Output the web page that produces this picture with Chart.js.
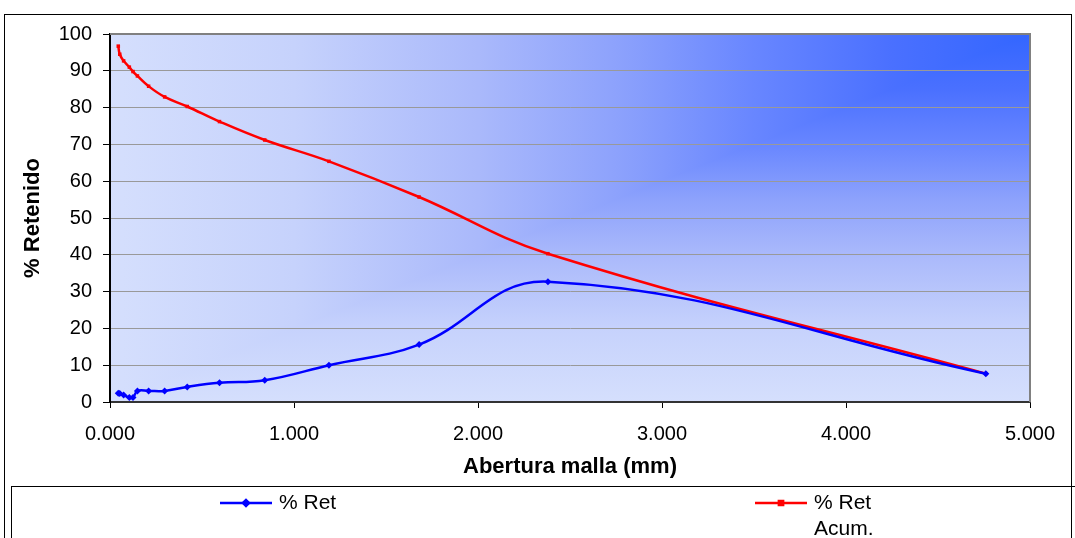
<!DOCTYPE html>
<html>
<head>
<meta charset="utf-8">
<script src="https://cdn.jsdelivr.net/npm/chart.js@4.4.1/dist/chart.umd.min.js"></script>
<style>
  html, body { margin: 0; padding: 0; background: #fff; }
  #wrap { width: 1075px; height: 538px; }
</style>
</head>
<body>
<div id="wrap"><canvas id="grafico" width="1075" height="538"></canvas></div>
<script>
// Datos de la curva granulometrica
const aberturas = [4.76, 2.38, 1.68, 1.19, 0.841, 0.595, 0.42, 0.297, 0.21, 0.149, 0.125, 0.105, 0.074, 0.053, 0.045];
const retenido = [7.7, 32.7, 15.6, 10.0, 5.9, 5.2, 4.1, 3.0, 3.0, 3.0, 1.2, 1.2, 1.9, 2.3, 2.4];
const retAcumulado = [7.7, 40.3, 55.7, 65.4, 71.2, 76.2, 80.3, 82.9, 85.8, 88.6, 89.8, 91.0, 92.7, 94.5, 96.7];
const leyendaRet = ['% Ret'];
const leyendaAcum = ['% Ret', 'Acum.'];

const FUENTE = "'Liberation Sans', Arial, sans-serif";

function puntos(valores) {
  return aberturas.map((x, i) => ({ x: x, y: valores[i] }));
}

// Degradado "desde la esquina" (superior derecha) del area de trazado
const fondoDegradado = {
  id: 'fondoDegradado',
  beforeDraw(chart) {
    const { ctx, chartArea: a } = chart;
    const stops = [[0, '#3366ff'], [0.15, '#4a70ff'], [0.3, '#6886ff'], [0.45, '#8da2fc'],
                   [0.6, '#aab9fb'], [0.8, '#c6d2fc'], [1, '#d5dffd']];
    ctx.save();
    // horizontal
    const gh = ctx.createLinearGradient(a.right, 0, a.left, 0);
    stops.forEach(([t, c]) => gh.addColorStop(t, c));
    ctx.fillStyle = gh;
    ctx.fillRect(a.left, a.top, a.width, a.height);
    // vertical, en el triangulo inferior derecho
    const gv = ctx.createLinearGradient(0, a.top, 0, a.bottom);
    stops.forEach(([t, c]) => gv.addColorStop(t, c));
    ctx.fillStyle = gv;
    ctx.beginPath();
    ctx.moveTo(a.right, a.top);
    ctx.lineTo(a.right, a.bottom);
    ctx.lineTo(a.left, a.bottom);
    ctx.closePath();
    ctx.fill();
    ctx.restore();
  },
  afterDraw(chart) {
    const { ctx, chartArea: a } = chart;
    ctx.save();
    // borde gris del area de trazado (arriba y derecha)
    ctx.strokeStyle = '#808080';
    ctx.lineWidth = 2;
    ctx.beginPath();
    ctx.moveTo(a.left, a.top);
    ctx.lineTo(a.right, a.top);
    ctx.lineTo(a.right, a.bottom);
    ctx.stroke();
    // marco exterior
    ctx.strokeStyle = '#000';
    ctx.lineWidth = 1;
    ctx.strokeRect(4.5, 14.5, 1067, 540);
    // caja de la leyenda
    ctx.strokeRect(11.5, 486.5, 1070, 60);
    ctx.restore();
  }
};

// Leyenda propia (el texto de la segunda serie va en dos lineas)
const leyenda = {
  id: 'leyenda',
  afterDraw(chart) {
    const { ctx } = chart;
    const items = [
      { ds: chart.data.datasets[0], x0: 220, x1: 272, textos: leyendaRet },
      { ds: chart.data.datasets[1], x0: 755, x1: 807, textos: leyendaAcum }
    ];
    ctx.save();
    items.forEach((it) => {
      const y = 503;
      ctx.strokeStyle = it.ds.borderColor;
      ctx.lineWidth = 2.5;
      ctx.beginPath();
      ctx.moveTo(it.x0, y);
      ctx.lineTo(it.x1, y);
      ctx.stroke();
      Chart.helpers.drawPoint(ctx, {
        pointStyle: it.ds.pointStyle, radius: 3, borderWidth: 1, rotation: 0
      }, (it.x0 + it.x1) / 2, y);
      ctx.fillStyle = it.ds.borderColor;
      ctx.fill();
      ctx.fillStyle = '#000';
      ctx.font = '21px ' + FUENTE;
      ctx.textBaseline = 'middle';
      it.textos.forEach((t, i) => ctx.fillText(t, it.x1 + 7, y + i * 26));
    });
    ctx.restore();
  }
};

new Chart(document.getElementById('grafico'), {
  type: 'line',
  data: {
    datasets: [
      {
        label: '% Ret',
        data: puntos(retenido),
        borderColor: '#0000ff',
        backgroundColor: '#0000ff',
        borderWidth: 2.5,
        pointStyle: 'rectRot',
        pointRadius: 3.5,
        pointBorderWidth: 0,
        tension: 0.4,
        fill: false
      },
      {
        label: '% Ret Acum.',
        data: puntos(retAcumulado),
        borderColor: '#ff0000',
        backgroundColor: '#ff0000',
        borderWidth: 2.5,
        pointStyle: 'rect',
        pointRadius: 2.5,
        pointBorderWidth: 0,
        tension: 0.4,
        fill: false
      }
    ]
  },
  options: {
    responsive: false,
    animation: false,
    devicePixelRatio: 1,
    layout: { padding: { top: 34, right: 45, bottom: 56, left: 0 } },
    plugins: {
      legend: { display: false },
      tooltip: { enabled: false }
    },
    scales: {
      x: {
        type: 'linear',
        min: 0,
        max: 5,
        afterFit(scale) { scale.height = 80; },
        ticks: {
          stepSize: 1,
          color: '#000',
          padding: 14,
          font: { family: FUENTE, size: 20 },
          callback: (v) => v.toFixed(3)
        },
        grid: { drawOnChartArea: false, drawTicks: true, tickLength: 6, tickColor: '#000' },
        border: { display: true, color: '#333', width: 2 },
        title: {
          display: true,
          text: 'Abertura malla (mm)',
          color: '#000',
          padding: { top: 0, bottom: 2 },
          font: { family: FUENTE, size: 22, weight: 'bold' }
        }
      },
      y: {
        min: 0,
        max: 100,
        afterFit(scale) { scale.width = 110; },
        ticks: {
          stepSize: 10,
          color: '#000',
          padding: 11,
          font: { family: FUENTE, size: 20 }
        },
        grid: { color: '#999', lineWidth: 1, drawTicks: true, tickLength: 7, tickColor: '#000' },
        border: { display: true, color: '#000', width: 2 },
        title: {
          display: true,
          text: '% Retenido',
          color: '#000',
          padding: { top: 20, bottom: 0 },
          font: { family: FUENTE, size: 22, weight: 'bold' }
        }
      }
    }
  },
  plugins: [fondoDegradado, leyenda]
});
</script>
</body>
</html>
